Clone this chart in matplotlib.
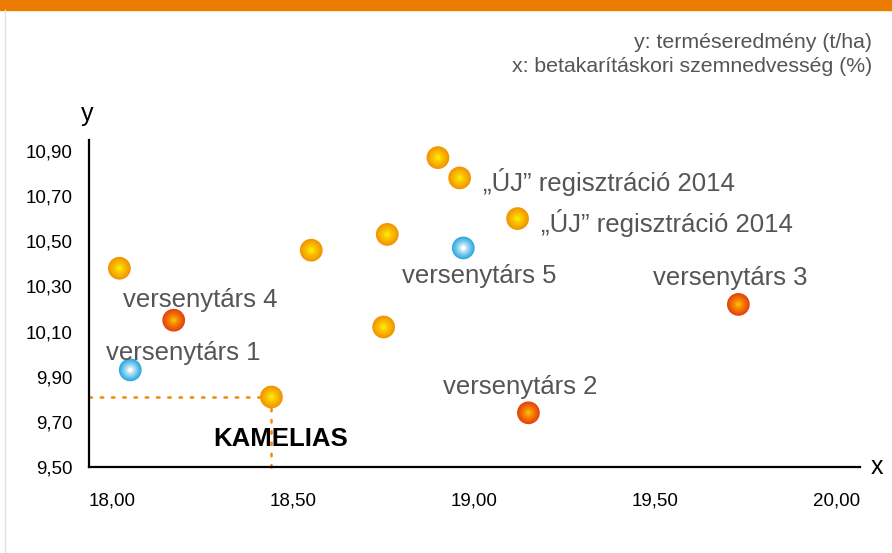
import numpy as np
import matplotlib
matplotlib.use("Agg")
import matplotlib.pyplot as plt
from matplotlib.colors import to_rgb
from matplotlib.lines import Line2D
from matplotlib.patches import Rectangle

plt.rcParams['font.family'] = ['Liberation Sans', 'DejaVu Sans']

# ---- data ----
moisture = [18.02, 18.17, 18.05, 18.44, 18.55, 18.76, 18.75, 18.90, 18.96, 18.97, 19.12, 19.15, 19.73]
yield_t = [10.38, 10.15, 9.93, 9.81, 10.46, 10.53, 10.12, 10.87, 10.78, 10.47, 10.60, 9.74, 10.22]
kind = ['own', 'rival', 'blue', 'own', 'own', 'own', 'own', 'own', 'own', 'blue', 'own', 'rival', 'rival']
labels = ['', 'versenytárs 4', 'versenytárs 1', 'KAMELIAS', '', '', '', '',
          '„ÚJ” regisztráció 2014', 'versenytárs 5', '„ÚJ” regisztráció 2014',
          'versenytárs 2', 'versenytárs 3']
x_ticks = [18.0, 18.5, 19.0, 19.5, 20.0]
y_ticks = [9.5, 9.7, 9.9, 10.1, 10.3, 10.5, 10.7, 10.9]

# label offsets in pixels (dx, dy, ha)
offsets = {
    'versenytárs 4': (27, 20, 'center'),
    'versenytárs 1': (53, 17, 'center'),
    'versenytárs 5': (16, -28, 'center'),
    'versenytárs 3': (-8, 26, 'center'),
    'versenytárs 2': (-8, 26, 'center'),
    '„ÚJ” regisztráció 2014': (23, -4, 'left'),
    'KAMELIAS': (9, -42, 'center'),
}

palette = {
    'own': ('#f29400', '#ffe600'),
    'rival': ('#e5420c', '#ffb400'),
    'blue': ('#2aa9e0', '#ffffff'),
}

W, H = 892, 553
fig = plt.figure(figsize=(W / 100, H / 100), dpi=100)
ax = fig.add_axes([89 / W, (H - 467) / H, (860 - 89) / W, (467 - 140) / H])

xmin, xmax = 17.936, 20.066
ymin, ymax = 9.5, 10.948
ax.set_xlim(xmin, xmax)
ax.set_ylim(ymin, ymax)

# KAMELIAS guide lines
ki = labels.index('KAMELIAS')
kx, ky = moisture[ki], yield_t[ki]
ax.plot([xmin, kx], [ky, ky], linestyle=(0, (1, 3.5)), color='#f08a00', lw=1.8,
        dash_capstyle='round', zorder=2, clip_on=False)
ax.plot([kx, kx], [ymin, ky], linestyle=(0, (1, 3.5)), color='#f08a00', lw=1.8,
        dash_capstyle='round', zorder=2, clip_on=False)

# gradient balls
base_s = 260
nlay = 14
for k in palette:
    idx = [i for i, kk in enumerate(kind) if kk == k]
    xs = [moisture[i] for i in idx]
    ys = [yield_t[i] for i in idx]
    edge, center = np.array(to_rgb(palette[k][0])), np.array(to_rgb(palette[k][1]))
    for j in range(nlay):
        t = j / (nlay - 1)
        col = edge * (1 - t) + center * t
        s = base_s * (1 - t) ** 2 + 8
        ax.scatter(xs, ys, s=s, color=col, edgecolors='none', zorder=5 + j * 0.01, clip_on=False)

# labels
for i, lab in enumerate(labels):
    if not lab:
        continue
    dx, dy, ha = offsets[lab]
    if lab == 'KAMELIAS':
        ax.annotate(lab, (moisture[i], yield_t[i]), xytext=(dx, dy), textcoords='offset pixels',
                    ha=ha, va='center', fontsize=18.5, fontweight='bold', color='black', zorder=10)
    else:
        ax.annotate(lab, (moisture[i], yield_t[i]), xytext=(dx, dy), textcoords='offset pixels',
                    ha=ha, va='center', fontsize=18.5, color='#555555', zorder=10)

# axes styling
for sp in ['top', 'right']:
    ax.spines[sp].set_visible(False)
for sp in ['left', 'bottom']:
    ax.spines[sp].set_linewidth(1.6)
    ax.spines[sp].set_color('black')
ax.set_xticks(x_ticks)
ax.set_yticks(y_ticks)
ax.set_xticklabels([f'{v:.2f}'.replace('.', ',') for v in x_ticks], fontsize=13.5)
ax.set_yticklabels([f'{v:.2f}'.replace('.', ',') for v in y_ticks], fontsize=13.5)
ax.tick_params(length=0)
ax.tick_params(axis='x', pad=18)
ax.tick_params(axis='y', pad=12)

ax.text(-0.003, 1.08, 'y', transform=ax.transAxes, ha='center', va='center', fontsize=18)
ax.text(1.022, 0.0, 'x', transform=ax.transAxes, ha='center', va='center', fontsize=18)

fig.text(872 / W, 1 - 42 / H, 'y: terméseredmény (t/ha)', ha='right', va='center',
         fontsize=15.3, color='#555555')
fig.text(872 / W, 1 - 67 / H, 'x: betakarításkori szemnedvesség (%)', ha='right', va='center',
         fontsize=15.3, color='#555555')

# top bar and left border
fig.patches.append(Rectangle((0, 1 - 10 / H), 1, 10 / H, transform=fig.transFigure,
                             color='#ec7c00', zorder=0))
fig.lines.append(Line2D([5 / W, 5 / W], [0, 1 - 10 / H], transform=fig.transFigure,
                        color='#e2e2e2', lw=1))

fig.savefig('out.png', dpi=100)
